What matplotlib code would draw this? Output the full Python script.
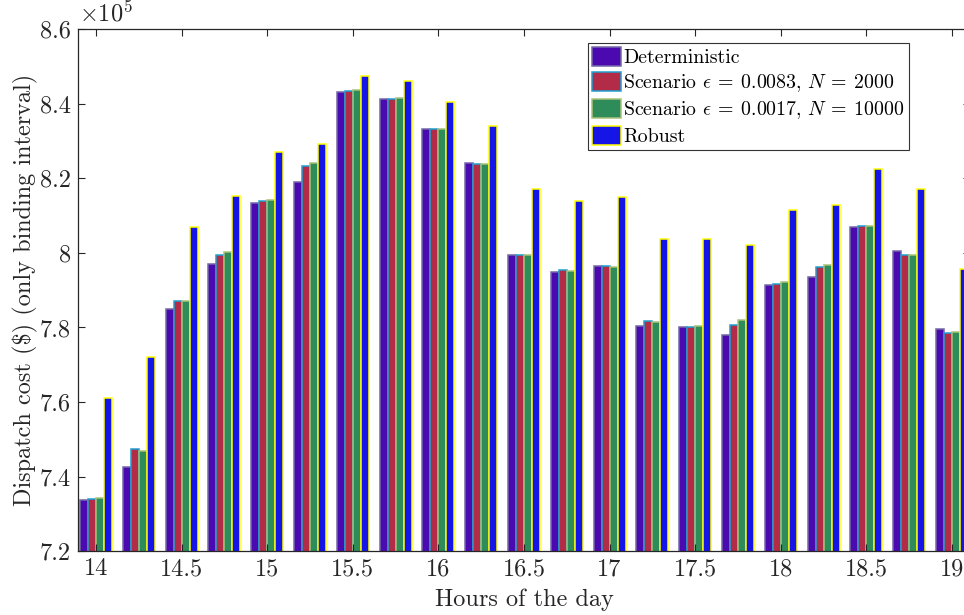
import matplotlib.pyplot as plt
import numpy as np

plt.rcParams['font.family'] = 'serif'
plt.rcParams['font.serif'] = ['cmr10']
plt.rcParams['mathtext.fontset'] = 'cm'
plt.rcParams['axes.formatter.use_mathtext'] = True

# hours of the day (15 minute intervals)
hours = [14, 14.25, 14.5, 14.75, 15, 15.25, 15.5, 15.75, 16, 16.25,
         16.5, 16.75, 17, 17.25, 17.5, 17.75, 18, 18.25, 18.5, 18.75, 19]

# dispatch cost, in units of 1e5 $
deterministic = [7.338, 7.425, 7.850, 7.970, 8.134, 8.189, 8.431, 8.413, 8.333, 8.242,
                 7.993, 7.948, 7.965, 7.804, 7.800, 7.780, 7.914, 7.934, 8.070, 8.005, 7.795]
scen_2000 = [7.339, 7.473, 7.870, 7.994, 8.138, 8.233, 8.434, 8.412, 8.333, 8.238,
             7.994, 7.954, 7.965, 7.817, 7.802, 7.806, 7.916, 7.963, 8.071, 7.994, 7.785]
scen_10000 = [7.343, 7.468, 7.872, 8.002, 8.141, 8.242, 8.436, 8.415, 8.332, 8.237,
              7.994, 7.952, 7.962, 7.815, 7.804, 7.819, 7.923, 7.967, 8.071, 7.994, 7.789]
robust = [7.610, 7.720, 8.070, 8.153, 8.269, 8.291, 8.473, 8.460, 8.404, 8.339,
          8.170, 8.138, 8.149, 8.038, 8.036, 8.020, 8.114, 8.127, 8.224, 8.172, 7.956]

labels = ['Deterministic',
          r'Scenario $\epsilon\:=\:0.0083,\,N\:=\:2000$',
          r'Scenario $\epsilon\:=\:0.0017,\,N\:=\:10000$',
          'Robust']
faces = ['#4b0ab0', '#b22c48', '#2e8b5a', '#1515e8']
edges = ['#7468a8', '#1fa0d0', '#a8c278', '#ffff00']

fig = plt.figure(figsize=(9.64, 6.15), dpi=100)
ax = fig.add_axes([78/964, 1-551.3/615, 892/964, 522.3/615])

x = np.array(hours)
w = 0.25*0.75/4
series = [deterministic, scen_2000, scen_10000, robust]
for i, vals in enumerate(series):
    ax.bar(x + (i-1.5)*w, vals, width=w, color=faces[i], edgecolor=edges[i],
           linewidth=1.1, label=labels[i])

ax.set_xlim(13.895, 19.105)
ax.set_ylim(7.2, 8.6)
ax.set_xticks([14, 14.5, 15, 15.5, 16, 16.5, 17, 17.5, 18, 18.5, 19])
ax.set_yticks([7.2, 7.4, 7.6, 7.8, 8.0, 8.2, 8.4, 8.6])
ax.set_xticklabels(['%g' % t for t in ax.get_xticks()])
ax.set_yticklabels(['%g' % t for t in ax.get_yticks()])
ax.tick_params(direction='in', top=True, right=True, length=5, width=0.8,
               labelsize=17.5, colors='#262626', pad=5)
for s in ax.spines.values():
    s.set_color('#262626')
    s.set_linewidth(0.9)

ax.set_xlabel('Hours of the day', fontsize=17.5, color='#262626', labelpad=6)
ax.set_ylabel(r'Dispatch cost (\$) (only binding interval)', fontsize=17.5,
              color='#262626', labelpad=1.5)
fig.text(79/964, 1-13/615, r'$\times10^5$', fontsize=17.5, ha='left', va='center',
         color='#262626')

leg = ax.legend(loc='upper right', bbox_to_anchor=((909-78)/892, (551.3-43)/522.3),
                borderaxespad=0, fontsize=14.3, fancybox=False, framealpha=1,
                edgecolor='#333333', handlelength=1.45, handleheight=1.05,
                handletextpad=0.1, labelspacing=0.25, borderpad=0.22)
leg.get_frame().set_linewidth(0.8)

fig.savefig('out.png', dpi=100)
